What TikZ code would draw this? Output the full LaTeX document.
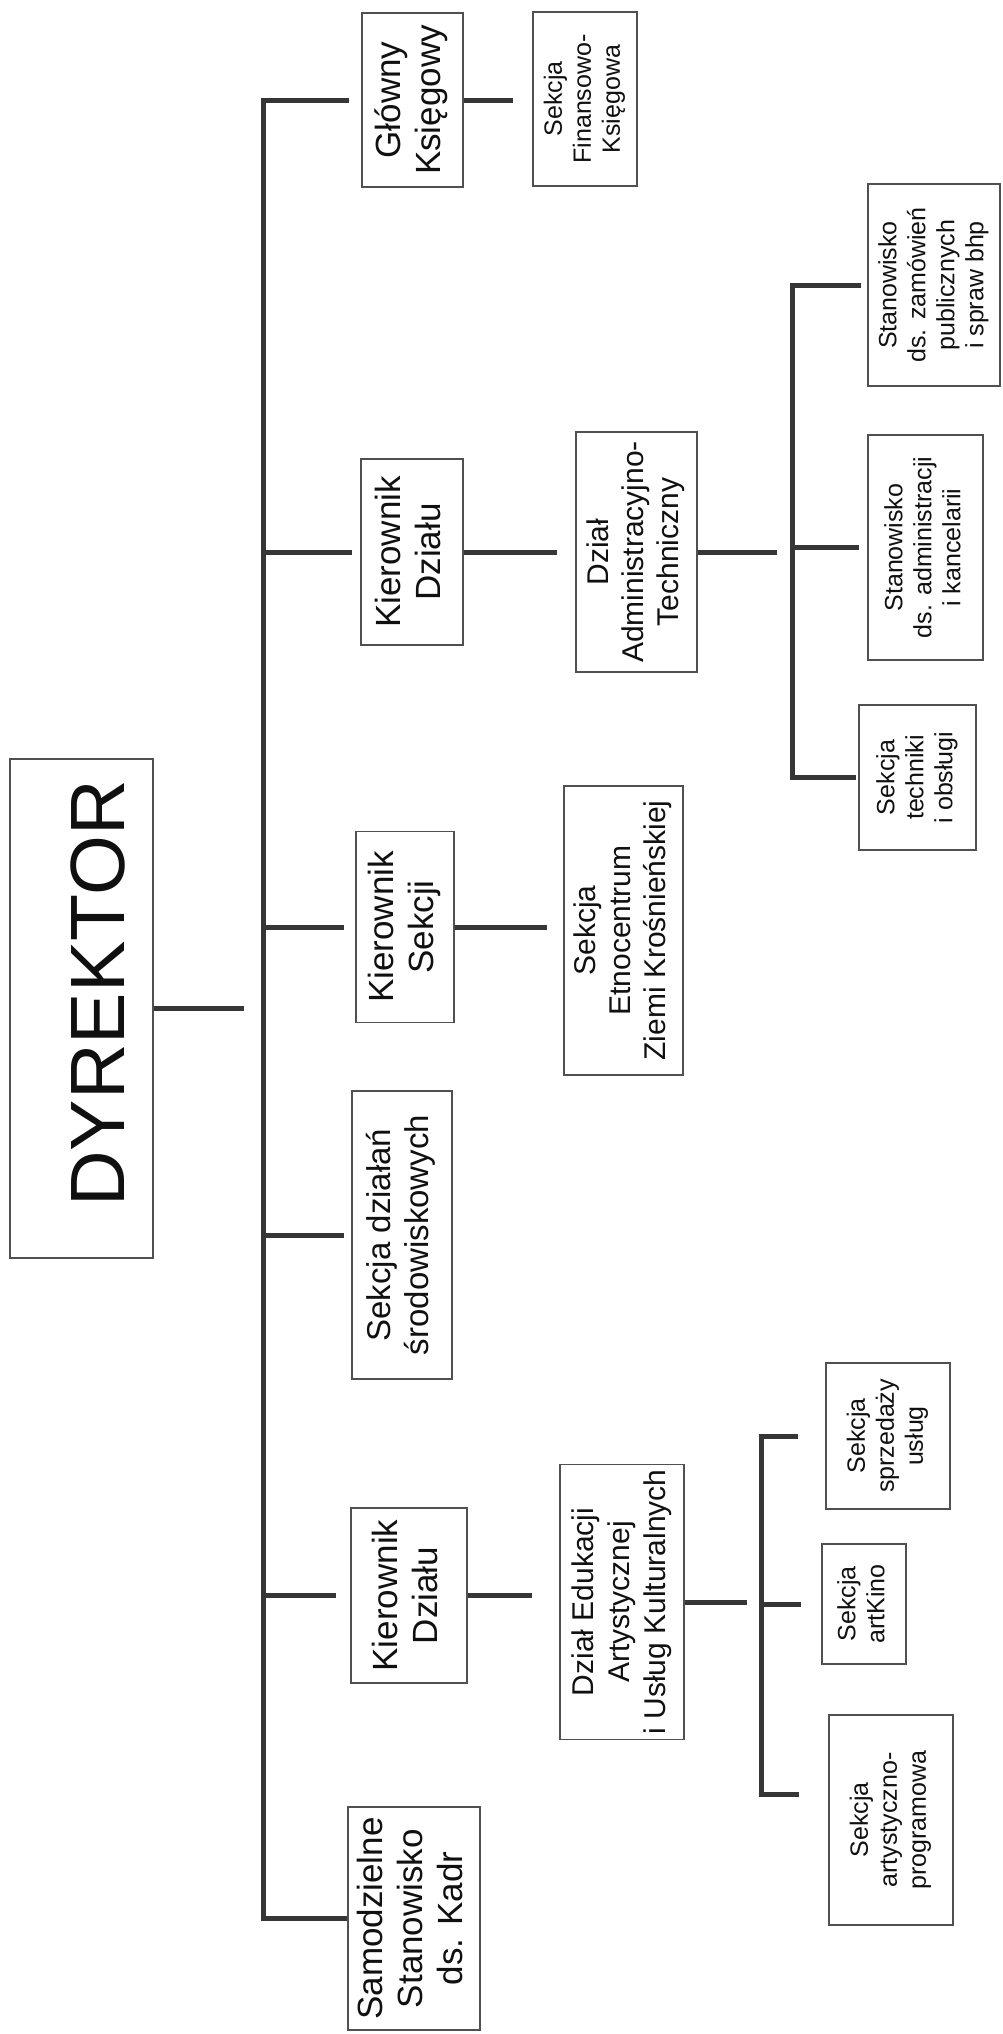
\documentclass[tikz,border=0pt]{standalone}
\usepackage{fontspec}
\setmainfont{Liberation Sans}
\definecolor{boxc}{HTML}{505050}
\definecolor{linec}{HTML}{363636}
\definecolor{txtc}{HTML}{101010}
\newcommand{\vtext}[3]{\rotatebox{90}{\fontsize{#1}{#2}\selectfont\begin{tabular}{@{}c@{}}#3\end{tabular}}}
\begin{document}
\begin{tikzpicture}[x=1pt,y=-1pt,
  box/.style={draw=boxc, line width=1.4pt, fill=white, inner sep=0pt, text=txtc},
  conn/.style={draw=linec, line width=5pt, line join=miter}]
\fill[white] (0,0) rectangle (1002,2034);
\useasboundingbox (0,0) rectangle (1002,2034);

% nodes
\node[box, minimum width=143pt, minimum height=499pt] (dyr) at (81.5,1008.5)
  {\rotatebox{90}{\fontsize{77}{80}\selectfont\hspace*{30pt}\raisebox{-16pt}[\height][\depth]{DYREKTOR}}};
\node[box, minimum width=101pt, minimum height=174pt] (glowny) at (412.5,100) {\vtext{35}{40}{Główny\\Księgowy}};
\node[box, minimum width=104pt, minimum height=174pt] (finans) at (585,99) {\vtext{25}{29}{Sekcja\\Finansowo-\\Księgowa}};
\node[box, minimum width=102pt, minimum height=186pt] (kdz1) at (412,552) {\vtext{35}{40}{Kierownik\\Działu}};
\node[box, minimum width=121pt, minimum height=240pt] (adm) at (636.5,552) {\vtext{30}{35}{Dział\\Administracyjno-\\Techniczny}};
\node[box, minimum width=132pt, minimum height=202pt] (zamow) at (934,285) {\vtext{25}{29}{Stanowisko\\ds. zamówień\\publicznych\\i spraw bhp}};
\node[box, minimum width=115pt, minimum height=225pt] (admin) at (925.5,547.5) {\vtext{25}{29}{Stanowisko\\ds. administracji\\i kancelarii}};
\node[box, minimum width=117pt, minimum height=145pt] (techn) at (917.5,777.5) {\vtext{25}{29}{Sekcja\\techniki\\i obsługi}};
\node[box, minimum width=98pt, minimum height=191pt] (ksek) at (405,927) {\vtext{35}{40}{Kierownik\\Sekcji}};
\node[box, minimum width=119pt, minimum height=289pt] (etno) at (623.5,930.5) {\vtext{30}{35}{Sekcja\\Etnocentrum\\Ziemi Krośnieńskiej}};
\node[box, minimum width=100pt, minimum height=288pt] (srod) at (402,1235) {\vtext{33}{38}{Sekcja działań\\środowiskowych}};
\node[box, minimum width=116pt, minimum height=175pt] (kdz2) at (409,1595.5) {\vtext{35}{40}{Kierownik\\Działu}};
\node[box, minimum width=124pt, minimum height=275pt] (edu) at (622,1602) {\vtext{30}{36}{Dział Edukacji\\Artystycznej\\i Usług Kulturalnych}};
\node[box, minimum width=124pt, minimum height=146pt] (sprz) at (888,1436) {\vtext{25}{29}{Sekcja\\sprzedaży\\usług}};
\node[box, minimum width=84pt, minimum height=120pt] (kino) at (864,1604) {\vtext{25}{29}{Sekcja\\artKino}};
\node[box, minimum width=124pt, minimum height=210pt] (artprog) at (891,1820) {\vtext{25}{29}{Sekcja\\artystyczno-\\programowa}};
\node[box, minimum width=132pt, minimum height=223pt] (samo) at (414,1918.5) {\vtext{35}{40}{Samodzielne\\Stanowisko\\ds. Kadr}};

% bus coordinates
\coordinate (bustop) at (263,100);
\coordinate (busbot) at (263,1918.5);
\coordinate (abus) at (792,552);
\coordinate (ebus) at (761,1600);
\coordinate (ap) at (799,1794);

% director
\draw[conn, shorten >=19pt] (dyr.east) -- (dyr.east -| bustop);
% main bus
\draw[conn, shorten <=12pt] (glowny.west) -- (bustop) -- (busbot) -- (samo.west);
\draw[conn, shorten >=8pt] (bustop |- kdz1.west) -- (kdz1.west);
\draw[conn, shorten >=11pt] (bustop |- ksek.west) -- (ksek.west);
\draw[conn, shorten >=7pt] (bustop |- srod.west) -- (srod.west);
\draw[conn, shorten >=14pt] (bustop |- kdz2.west) -- (kdz2.west);
% second level
\draw[conn, shorten >=19pt] (glowny.east) -- (glowny.east -| finans.west);
\draw[conn, shorten >=18pt] (kdz1.east) -- (kdz1.east -| adm.west);
\draw[conn, shorten >=16pt] (ksek.east) -- (ksek.east -| etno.west);
\draw[conn, shorten >=27pt] (kdz2.east) -- (kdz2.east -| edu.west);
% administration subtree
\draw[conn, shorten >=15pt] (adm.east) -- (adm.east -| abus);
\draw[conn, shorten <=6pt, shorten >=2pt] (zamow.west) -- (abus |- zamow.west) -- (abus |- techn.west) -- (techn.west);
\draw[conn, shorten >=8pt] (abus |- admin.west) -- (admin.west);
% education subtree
\draw[conn, shorten >=14pt] (edu.east) -- (edu.east -| ebus);
\draw[conn, shorten <=27pt] (sprz.west) -- (ebus |- sprz.west) -- (ebus |- ap) -- (ap);
\draw[conn, shorten >=20pt] (ebus |- kino.west) -- (kino.west);
\end{tikzpicture}
\end{document}
